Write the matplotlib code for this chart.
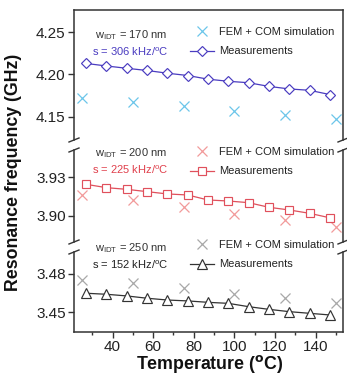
import matplotlib
matplotlib.use("Agg")
import matplotlib.pyplot as plt
from matplotlib.lines import Line2D

plt.rcParams['font.family'] = ['Liberation Sans', 'DejaVu Sans']

# ---------------- data ----------------
temps_meas = [27, 37, 47, 57, 67, 77, 87, 97, 107, 117, 127, 137, 147]
temps_sim = [25, 50, 75, 100, 125, 150]

meas_170 = [4.2130, 4.2100, 4.2073, 4.2047, 4.2015, 4.1988, 4.1945, 4.1920,
            4.1903, 4.1860, 4.1830, 4.1814, 4.1764]
sim_170 = [4.1729, 4.1678, 4.1628, 4.1570, 4.1523, 4.1473]

meas_200 = [3.9245, 3.9219, 3.9206, 3.9188, 3.9170, 3.9162, 3.9123, 3.9115,
            3.9102, 3.9066, 3.9045, 3.9019, 3.8984]
sim_200 = [3.9162, 3.9123, 3.9066, 3.9011, 3.8966, 3.8909]

meas_250 = [3.4649, 3.4641, 3.4628, 3.4610, 3.4596, 3.4589, 3.4578, 3.4570,
            3.4544, 3.4523, 3.4505, 3.4492, 3.4479]
sim_250 = [3.4753, 3.4727, 3.4688, 3.4643, 3.4610, 3.4570]

widths = ["170", "200", "250"]
slopes = ["306", "225", "152"]
yticks_top = [4.15, 4.20, 4.25]
yticks_mid = [3.90, 3.93]
yticks_bot = [3.45, 3.48]
xticks = [40, 60, 80, 100, 120, 140]

# ---------------- layout ----------------
W, H = 347, 374
fig = plt.figure(figsize=(W / 100, H / 100), dpi=100)

def fx(px):
    return px / W

def fy(py):
    return 1 - py / H

left, right = 74, 343
panels = [(10, 140), (150, 242), (252, 331.7)]
ylims = [(4.1229, 4.2759), (3.8795, 3.9513), (3.4348, 3.4972)]
yticks_all = [yticks_top, yticks_mid, yticks_bot]

meas_all = [meas_170, meas_200, meas_250]
sim_all = [sim_170, sim_200, sim_250]
meas_colors = ['#4a3cc0', '#e0505c', '#333333']
sim_colors = ['#6cc6ea', '#f29a9a', '#a8a8a8']
s_colors = ['#4a3cc0', '#e0404c', '#222222']
markers = ['D', 's', '^']
msizes = [5.5, 5.5, 6.5]

spine_c = '#333333'
axes = []
for i, (t, b) in enumerate(panels):
    ax = fig.add_axes([fx(left), fy(b), fx(right - left), (b - t) / H])
    axes.append(ax)
    ax.set_xlim(21, 153.5)
    ax.set_ylim(*ylims[i])
    ax.set_yticks(yticks_all[i])
    ax.set_yticklabels([f"{v:.2f}" for v in yticks_all[i]])
    for sp in ax.spines.values():
        sp.set_color(spine_c)
        sp.set_linewidth(1.1)
    if i > 0:
        ax.spines['top'].set_visible(False)
    if i < 2:
        ax.spines['bottom'].set_visible(False)
        ax.tick_params(axis='x', which='both', bottom=False, labelbottom=False)
    else:
        ax.set_xticks(xticks)
        ax.set_xticks([30, 50, 70, 90, 110, 130, 150], minor=True)
    ax.tick_params(axis='both', which='major', direction='out', length=4,
                   width=1.0, color=spine_c, labelsize=11, labelcolor='#222222', pad=2)
    ax.tick_params(axis='x', which='minor', direction='out', length=2.5,
                   width=1.0, color=spine_c)
    ax.tick_params(axis='y', which='minor', left=False)

    ax.plot(temps_sim, sim_all[i], linestyle='none', marker='x', ms=7,
            mew=0.9, color=sim_colors[i], label='FEM + COM simulation')
    ax.plot(temps_meas, meas_all[i], '-', marker=markers[i], ms=msizes[i],
            mfc='white', mec=meas_colors[i], mew=0.85, lw=0.9,
            color=meas_colors[i], label='Measurements')

    # break marks
    d = dict(transform=fig.transFigure, color=spine_c, lw=1.0, clip_on=False)
    if i < 2:
        yb = b
        for xx in (left, right):
            fig.add_artist(Line2D([fx(xx - 5), fx(xx + 5)], [fy(yb + 2), fy(yb - 2)], **d))
    if i > 0:
        for xx in (left, right):
            fig.add_artist(Line2D([fx(xx - 5), fx(xx + 5)], [fy(t + 2), fy(t - 2)], **d))

# annotation texts and legends
text_rows = [(35, 52), (153, 170), (248, 265)]
leg_tops = [27, 147, 240]
for i in range(3):
    y1, y2 = text_rows[i]
    fig.text(fx(95), fy(y1), r"w$_{\mathregular{IDT}}$ = " + widths[i] + " nm",
             fontsize=8, color='#333333', va='center', ha='left')
    fig.text(fx(92), fy(y2), "s = " + slopes[i] + r" kHz/$^{\mathregular{o}}$C",
             fontsize=8, color=s_colors[i], va='center', ha='left')
    h, l = axes[i].get_legend_handles_labels()
    fig.legend(h, l, loc='upper left', bbox_to_anchor=(fx(190), fy(leg_tops[i])),
               bbox_transform=fig.transFigure, frameon=False, fontsize=8,
               borderpad=0, borderaxespad=0, handlelength=2.2, handletextpad=0.45,
               labelspacing=0.85, labelcolor='#222222')

fig.text(fx(14), fy(172), "Resonance frequency (GHz)", rotation=90,
         fontsize=12.8, fontweight='bold', ha='center', va='center', color='#111111')
fig.text(fx(210), fy(364), r"Temperature ($\mathbf{^{o}}$C)",
         fontsize=12.8, fontweight='bold', ha='center', va='center', color='#111111')

fig.savefig("out.png", dpi=100)
